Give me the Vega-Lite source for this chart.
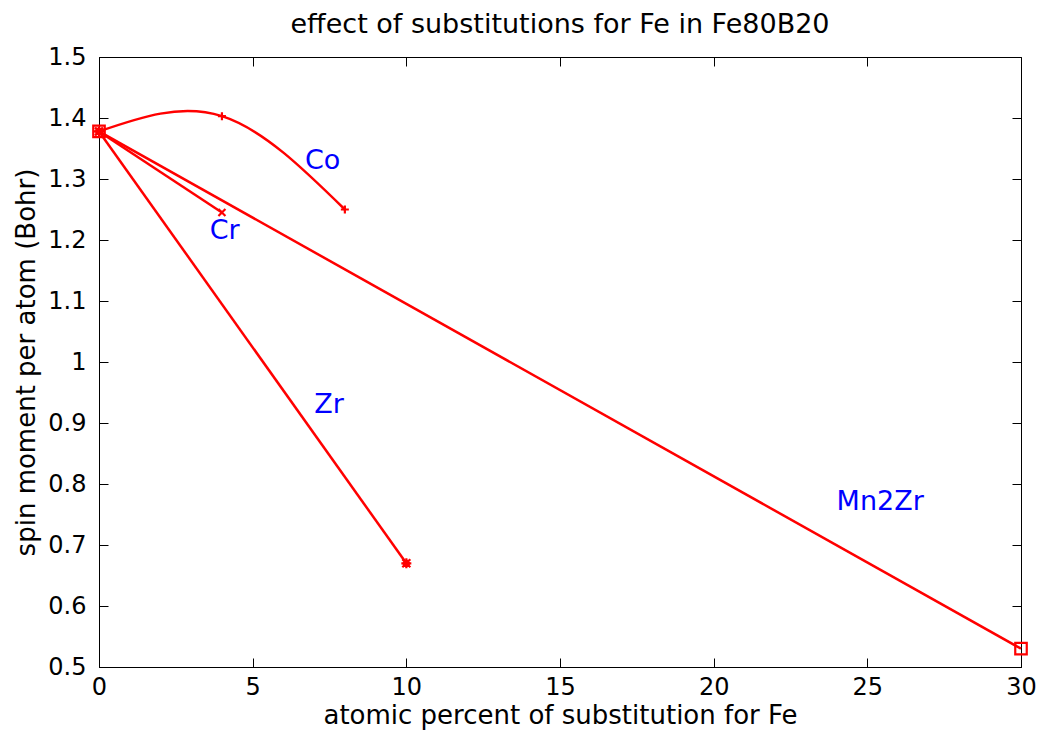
{
  "$schema": "https://vega.github.io/schema/vega-lite/v6.json",
  "width": 922,
  "height": 610,
  "autosize": {"type": "none"},
  "padding": {"left": 99, "top": 57, "right": 21, "bottom": 67},
  "background": "white",
  "title": {
    "text": "effect of substitutions for Fe in Fe80B20",
    "font": "DejaVu Sans",
    "fontSize": 27,
    "fontWeight": "normal",
    "color": "black",
    "baseline": "bottom",
    "offset": -21,
    "anchor": "middle",
    "frame": "group"
  },
  "config": {
    "view": {"stroke": "black", "strokeWidth": 1},
    "axis": {
      "grid": false,
      "domainColor": "black",
      "tickColor": "black",
      "labelColor": "black",
      "titleColor": "black",
      "labelFont": "DejaVu Sans",
      "titleFont": "DejaVu Sans",
      "labelFontSize": 24,
      "titleFontSize": 26,
      "titleFontWeight": "normal",
      "tickSize": -9,
      "labelFlush": false
    }
  },
  "datasets": {
    "lines": [
      {"series": "Co", "x": 0, "y": 1.378},
      {"series": "Co", "x": 4, "y": 1.403},
      {"series": "Co", "x": 8, "y": 1.25},
      {"series": "Cr", "x": 0, "y": 1.378},
      {"series": "Cr", "x": 4, "y": 1.245},
      {"series": "Zr", "x": 0, "y": 1.378},
      {"series": "Zr", "x": 10, "y": 0.67},
      {"series": "Mn2Zr", "x": 0, "y": 1.378},
      {"series": "Mn2Zr", "x": 30, "y": 0.53}
    ],
    "labels": [
      {"label": "Co", "x": 6.7, "y": 1.33},
      {"label": "Cr", "x": 3.6, "y": 1.215},
      {"label": "Zr", "x": 7.0, "y": 0.93},
      {"label": "Mn2Zr", "x": 24.0, "y": 0.77}
    ]
  },
  "layer": [
    {
      "data": {"name": "lines"},
      "mark": {"type": "line", "color": "#ff0000", "strokeWidth": 2.5, "interpolate": "natural"},
      "encoding": {
        "x": {
          "field": "x", "type": "quantitative",
          "scale": {"domain": [0, 30], "nice": false, "zero": false},
          "axis": {"values": [0, 5, 10, 15, 20, 25, 30], "title": "atomic percent of substitution for Fe", "labelPadding": 17, "titlePadding": 3, "orient": "bottom"}
        },
        "y": {
          "field": "y", "type": "quantitative",
          "scale": {"domain": [0.5, 1.5], "nice": false, "zero": false},
          "axis": {"values": [0.5, 0.6, 0.7, 0.8, 0.9, 1.0, 1.1, 1.2, 1.3, 1.4, 1.5], "format": "~g", "title": "spin moment per atom (Bohr)", "labelPadding": 22, "titlePadding": 8, "orient": "left"}
        },
        "detail": {"field": "series"}
      }
    },
    {
      "data": {"name": "lines"},
      "mark": {"type": "point", "filled": false, "strokeWidth": 2.2, "opacity": 1},
      "encoding": {
        "x": {"field": "x", "type": "quantitative", "axis": {"orient": "top", "values": [0, 5, 10, 15, 20, 25, 30], "labels": false, "title": null, "domain": false}},
        "y": {"field": "y", "type": "quantitative", "axis": {"orient": "right", "values": [0.5, 0.6, 0.7, 0.8, 0.9, 1.0, 1.1, 1.2, 1.3, 1.4, 1.5], "labels": false, "title": null, "domain": false}},
        "shape": {
          "field": "series", "type": "nominal", "legend": null,
          "scale": {
            "domain": ["Co", "Cr", "Zr", "Mn2Zr"],
            "range": [
              "M-0.8,0L0.8,0M0,-0.8L0,0.8",
              "M-0.7,-0.7L0.7,0.7M0.7,-0.7L-0.7,0.7",
              "M-1,0L1,0M0,-1L0,1M-0.8,-0.8L0.8,0.8M0.8,-0.8L-0.8,0.8M-0.5,-0.5L0.5,-0.5L0.5,0.5L-0.5,0.5Z",
              "M-1.15,-1.15L1.15,-1.15L1.15,1.15L-1.15,1.15Z"
            ]
          }
        },
        "color": {"value": "#ff0000"},
        "size": {"value": 100}
      }
    },
    {
      "data": {"name": "labels"},
      "mark": {"type": "text", "color": "#0000ff", "font": "DejaVu Sans", "fontSize": 27, "align": "left", "baseline": "middle"},
      "encoding": {
        "x": {"field": "x", "type": "quantitative", "axis": null},
        "y": {"field": "y", "type": "quantitative", "axis": null},
        "text": {"field": "label"}
      }
    }
  ],
  "resolve": {"axis": {"x": "independent", "y": "independent"}}
}
